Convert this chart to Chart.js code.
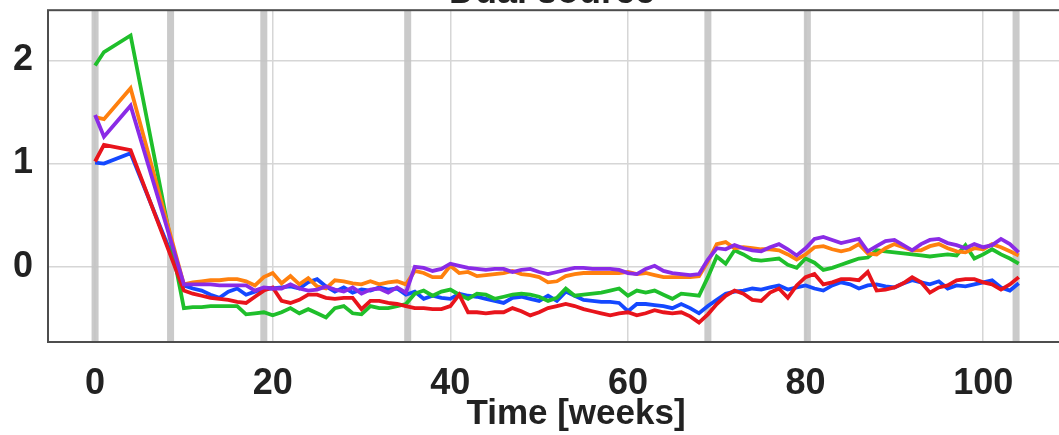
<!DOCTYPE html>
<html>
<head>
<meta charset="utf-8">
<script src="https://cdn.jsdelivr.net/npm/chart.js@4.4.1/dist/chart.umd.min.js"></script>
<style>
  html, body { margin: 0; padding: 0; background: #ffffff; }
  #wrap { position: relative; width: 1059px; height: 435px; overflow: hidden; background: #fff; }
  #c { position: absolute; left: 0; top: -30px; }
</style>
</head>
<body>
<div id="wrap"><canvas id="c" width="1104" height="465"></canvas></div>
<script>
const chartTitle = "Dual source";
const xAxisTitle = "Time [weeks]";
const xTickValues = [0, 20, 40, 60, 80, 100];
const yTickValues = [0, 1, 2];
const bandWeeks = [0, 8.5, 19, 35.2, 69, 80.2, 103.7];

const weeks = [0, 1, 4,
  10, 11, 12, 13, 14, 15, 16, 17, 18, 19,
  20, 21, 22, 23, 24, 25, 26, 27, 28, 29,
  30, 31, 32, 33, 34, 35, 36, 37, 38, 39,
  40, 41, 42, 43, 44, 45, 46, 47, 48, 49,
  50, 51, 52, 53, 54, 55, 56, 57, 58, 59,
  60, 61, 62, 63, 64, 65, 66, 67, 68, 69,
  70, 71, 72, 73, 74, 75, 76, 77, 78, 79,
  80, 81, 82, 83, 84, 85, 86, 87, 88, 89,
  90, 91, 92, 93, 94, 95, 96, 97, 98, 99,
  100, 101, 102, 103, 104];

const greenVals = [1.95, 2.08, 2.24,
  -0.40, -0.39, -0.39, -0.38, -0.38, -0.38, -0.38, -0.46, -0.45, -0.44,
  -0.47, -0.44, -0.40, -0.45, -0.41, -0.45, -0.49, -0.40, -0.38, -0.45,
  -0.46, -0.38, -0.40, -0.40, -0.38, -0.36, -0.26, -0.23, -0.28, -0.24,
  -0.22, -0.27, -0.31, -0.26, -0.27, -0.31, -0.29, -0.27, -0.26, -0.27,
  -0.29, -0.33, -0.30, -0.21, -0.28, -0.27, -0.26, -0.25, -0.23, -0.21,
  -0.28, -0.23, -0.25, -0.23, -0.27, -0.31, -0.26, -0.27, -0.28, -0.10,
  0.10, 0.03, 0.16, 0.12, 0.07, 0.06, 0.07, 0.08, 0.02, -0.01,
  0.08, 0.04, -0.03, -0.01, 0.02, 0.05, 0.08, 0.09, 0.16, 0.15,
  0.14, 0.13, 0.12, 0.11, 0.10, 0.11, 0.12, 0.11, 0.21, 0.08,
  0.12, 0.17, 0.12, 0.08, 0.03];

const orangeVals = [1.45, 1.43, 1.73,
  -0.17, -0.15, -0.14, -0.13, -0.13, -0.12, -0.12, -0.14, -0.18, -0.10,
  -0.06, -0.16, -0.09, -0.17, -0.11, -0.19, -0.21, -0.13, -0.14, -0.16,
  -0.17, -0.14, -0.17, -0.15, -0.14, -0.17, -0.04, -0.06, -0.10, -0.10,
  0.01, -0.06, -0.05, -0.09, -0.08, -0.07, -0.06, -0.04, -0.07, -0.08,
  -0.10, -0.15, -0.14, -0.09, -0.07, -0.06, -0.06, -0.06, -0.06, -0.06,
  -0.05, -0.07, -0.06, -0.08, -0.10, -0.10, -0.10, -0.10, -0.09, 0.05,
  0.22, 0.24, 0.18, 0.19, 0.18, 0.17, 0.17, 0.16, 0.12, 0.07,
  0.12, 0.19, 0.20, 0.17, 0.15, 0.17, 0.22, 0.13, 0.12, 0.18,
  0.22, 0.19, 0.16, 0.16, 0.20, 0.22, 0.18, 0.15, 0.14, 0.18,
  0.17, 0.22, 0.19, 0.15, 0.11];

const purpleVals = [1.47, 1.26, 1.56,
  -0.17, -0.17, -0.17, -0.17, -0.18, -0.18, -0.18, -0.18, -0.23, -0.20,
  -0.21, -0.21, -0.17, -0.21, -0.23, -0.22, -0.19, -0.22, -0.24, -0.20,
  -0.26, -0.22, -0.21, -0.25, -0.20, -0.25, 0.00, -0.01, -0.04, -0.02,
  0.03, 0.01, -0.01, -0.02, -0.03, -0.02, -0.02, -0.05, -0.03, -0.02,
  -0.05, -0.07, -0.05, -0.03, -0.01, -0.01, -0.02, -0.02, -0.02, -0.03,
  -0.06, -0.07, -0.02, 0.01, -0.04, -0.06, -0.07, -0.08, -0.07, 0.07,
  0.18, 0.17, 0.21, 0.18, 0.16, 0.15, 0.19, 0.22, 0.17, 0.11,
  0.18, 0.27, 0.29, 0.26, 0.23, 0.25, 0.27, 0.15, 0.20, 0.25,
  0.26, 0.21, 0.16, 0.22, 0.26, 0.27, 0.23, 0.21, 0.18, 0.22,
  0.19, 0.21, 0.27, 0.22, 0.14];

const blueVals = [1.01, 1.00, 1.10,
  -0.18, -0.21, -0.23, -0.27, -0.30, -0.24, -0.21, -0.27, -0.24, -0.21,
  -0.21, -0.20, -0.19, -0.21, -0.15, -0.12, -0.19, -0.24, -0.20, -0.25,
  -0.22, -0.23, -0.20, -0.22, -0.21, -0.27, -0.24, -0.31, -0.28, -0.30,
  -0.31, -0.26, -0.28, -0.29, -0.31, -0.33, -0.35, -0.30, -0.29, -0.31,
  -0.33, -0.28, -0.33, -0.24, -0.28, -0.32, -0.33, -0.34, -0.34, -0.35,
  -0.43, -0.36, -0.36, -0.37, -0.38, -0.40, -0.36, -0.40, -0.45, -0.38,
  -0.32, -0.26, -0.24, -0.23, -0.21, -0.22, -0.20, -0.18, -0.22, -0.20,
  -0.18, -0.21, -0.23, -0.18, -0.15, -0.17, -0.21, -0.18, -0.17, -0.19,
  -0.20, -0.16, -0.13, -0.15, -0.17, -0.14, -0.21, -0.18, -0.19, -0.17,
  -0.15, -0.13, -0.20, -0.23, -0.16];

const redVals = [1.02, 1.18, 1.13,
  -0.23, -0.26, -0.28, -0.30, -0.31, -0.32, -0.34, -0.35, -0.29, -0.23,
  -0.20, -0.33, -0.35, -0.32, -0.27, -0.27, -0.30, -0.31, -0.30, -0.30,
  -0.41, -0.33, -0.33, -0.35, -0.36, -0.38, -0.40, -0.40, -0.41, -0.41,
  -0.38, -0.27, -0.44, -0.44, -0.45, -0.44, -0.44, -0.40, -0.43, -0.47,
  -0.44, -0.40, -0.38, -0.36, -0.38, -0.41, -0.43, -0.45, -0.47, -0.45,
  -0.44, -0.47, -0.45, -0.42, -0.44, -0.45, -0.44, -0.48, -0.54, -0.46,
  -0.36, -0.28, -0.23, -0.26, -0.32, -0.33, -0.25, -0.21, -0.30, -0.18,
  -0.10, -0.07, -0.17, -0.15, -0.12, -0.12, -0.13, -0.05, -0.23, -0.22,
  -0.20, -0.16, -0.10, -0.15, -0.25, -0.20, -0.18, -0.13, -0.12, -0.12,
  -0.15, -0.17, -0.22, -0.17, -0.10];

function pts(vals) { return weeks.map((w, i) => ({ x: w, y: vals[i] })); }

const bandPlugin = {
  id: 'bands',
  beforeDatasetsDraw(chart) {
    const { ctx, chartArea, scales } = chart;
    ctx.save();
    ctx.strokeStyle = 'rgba(196,196,196,0.9)';
    ctx.lineWidth = 7;
    bandWeeks.forEach(w => {
      const px = scales.x.getPixelForValue(w);
      ctx.beginPath();
      ctx.moveTo(px, chartArea.top);
      ctx.lineTo(px, chartArea.bottom);
      ctx.stroke();
    });
    ctx.restore();
  },
  afterDatasetsDraw(chart) {
    const { ctx, chartArea } = chart;
    ctx.save();
    ctx.strokeStyle = '#4d4d4d';
    ctx.lineWidth = 2;
    ctx.strokeRect(chartArea.left, chartArea.top, chartArea.right - chartArea.left, chartArea.bottom - chartArea.top);
    ctx.restore();
  }
};

const lineDs = (label, vals, color) => ({
  label, data: pts(vals), borderColor: color, backgroundColor: color,
  borderWidth: 3.8, pointRadius: 0, tension: 0, fill: false
});

new Chart(document.getElementById('c'), {
  type: 'line',
  data: {
    datasets: [
      lineDs('purple', purpleVals, '#8a2be6'),
      lineDs('red', redVals, '#e8141c'),
      lineDs('orange', orangeVals, '#ff800e'),
      lineDs('green', greenVals, '#1fbf2b'),
      lineDs('blue', blueVals, '#1448ff')
    ]
  },
  options: {
    responsive: false,
    animation: false,
    devicePixelRatio: 1,
    layout: { padding: 0 },
    plugins: {
      legend: { display: false },
      tooltip: { enabled: false },
      title: {
        display: true, text: chartTitle, color: '#222',
        font: { family: 'Liberation Sans, Arial, sans-serif', size: 36, weight: 'bold', lineHeight: 0.95 },
        padding: { top: 6, bottom: 0 }
      }
    },
    scales: {
      x: {
        type: 'linear', min: -5.3, max: 113.6,
        afterBuildTicks(s) { s.ticks = xTickValues.map(v => ({ value: v })); },
        afterFit(s) { s.height = 93; },
        grid: { color: '#d6d6d6', lineWidth: 1.5, drawTicks: false },
        border: { display: false },
        ticks: {
          color: '#222', padding: 20, maxRotation: 0,
          font: { family: 'Liberation Sans, Arial, sans-serif', size: 36, weight: 'bold' }
        },
        title: {
          display: true, text: xAxisTitle, color: '#222',
          font: { family: 'Liberation Sans, Arial, sans-serif', size: 35, weight: 'bold', lineHeight: 1.2 },
          padding: { top: 0, bottom: 0 }
        }
      },
      y: {
        type: 'linear', min: -0.728, max: 2.485,
        afterBuildTicks(s) { s.ticks = yTickValues.map(v => ({ value: v })); },
        afterFit(s) { s.width = 48; },
        grid: { color: '#d6d6d6', lineWidth: 1.5, drawTicks: false },
        border: { display: false },
        ticks: {
          color: '#222', padding: 15,
          font: { family: 'Liberation Sans, Arial, sans-serif', size: 36, weight: 'bold' }
        }
      }
    }
  },
  plugins: [bandPlugin]
});
</script>
</body>
</html>
